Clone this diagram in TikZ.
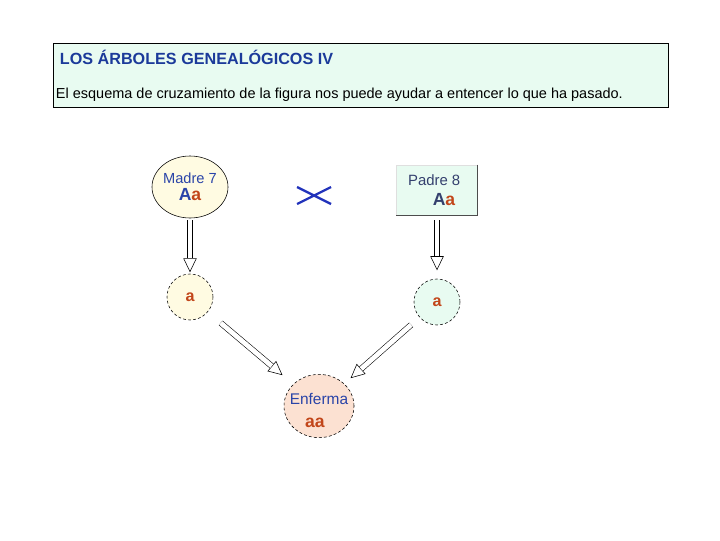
\documentclass[tikz,border=0pt]{standalone}
\usepackage{fontspec}
\setmainfont{Liberation Sans}
\usetikzlibrary{shapes.geometric,arrows.meta}
\definecolor{titleblue}{HTML}{1B3A9A}
\definecolor{namblue}{HTML}{2A44A8}
\definecolor{padregray}{HTML}{34406E}
\definecolor{allele}{HTML}{C2461A}
\definecolor{mint}{HTML}{E8FBF1}
\definecolor{cream}{HTML}{FFFBE2}
\definecolor{peach}{HTML}{FCE1D2}
\definecolor{crossblue}{HTML}{2233BB}

\begin{document}
\begin{tikzpicture}[x=0.025cm, y=-0.025cm,
  person/.style={ellipse, draw, thin, inner sep=0pt, align=center,
    font=\fontsize{10.4}{13}\selectfont, text=namblue},
  gamete/.style={circle, draw, thin, dash pattern=on 2pt off 1.6pt, inner sep=0pt,
    minimum size=1.15cm, font=\fontsize{11.5}{13}\selectfont\bfseries, text=allele},
  hollow/.style 2 args={thin, shorten <=#1, shorten >=#2,
    -{Triangle[open, length=10pt, width=9.5pt]},
    postaction={draw, arrows=-, thin, double=white, double distance=3.4pt,
      shorten <=#1, shorten >={#2+10pt}}}]
\useasboundingbox (0,0) rectangle (720,540);
%----------------- heading -----------------
\filldraw[fill=mint, thin] (53,43) rectangle (668,107);
\node[anchor=west, font=\fontsize{11.5}{13}\selectfont\bfseries, text=titleblue] (title) at (55,57)
  {LOS ÁRBOLES GENEALÓGICOS IV};
\node[anchor=west, font=\fontsize{10.3}{12}\selectfont] (intro) at (51,95)
  {El esquema de cruzamiento de la figura nos puede ayudar a entencer lo que ha pasado.};
%----------------- parents -----------------
\node[person, fill=cream, minimum width=1.9cm, minimum height=1.55cm] (madre) at (190,187)
  {Madre 7\\[-1pt]{\fontsize{12.5}{13}\selectfont\bfseries \textcolor{namblue}{A}\textcolor{allele}{a}}};
\node[rectangle, fill=mint, draw=gray!25, inner sep=0pt, minimum width=2.02cm, minimum height=1.25cm,
  align=center, font=\fontsize{10.6}{13}\selectfont, text=padregray] (padre) at (437,190)
  {Padre 8\hspace*{4pt}\\[1pt]\hspace*{10pt}{\fontsize{12.5}{13}\selectfont\bfseries \textcolor{padregray}{A}\textcolor{allele}{a}}};
\draw[gray!60!black, semithick] (padre.north east) -- (padre.south east) -- (padre.south west);
% cross sign
\draw[crossblue, line width=1.6pt] (297,187) -- (331,204) (297,204) -- (331,187);
%----------------- gametes -----------------
\node[gamete, fill=cream] (ma) at (190,297) {a};
\node[gamete, fill=mint] (pa) at (437,302) {a};
\draw[hollow={1.5pt}{1pt}] (madre) -- (ma);
\draw[hollow={3.5pt}{6pt}] (padre) -- (pa);
%----------------- offspring -----------------
\node[person, fill=peach, dash pattern=on 2pt off 1.6pt, inner xsep=-4pt, minimum width=1.75cm,
  minimum height=1.58cm, font=\fontsize{11}{13}\selectfont] (enf) at (319,406)
  {\rule{0pt}{14pt}Enferma\\[3pt]\hspace*{-6pt}{\fontsize{12.5}{13}\selectfont\bfseries\textcolor{allele}{aa}}};
\draw[hollow={12pt}{10pt}] (ma) -- (enf);
\draw[hollow={8pt}{6pt}] (pa) -- (enf);
\end{tikzpicture}
\end{document}
